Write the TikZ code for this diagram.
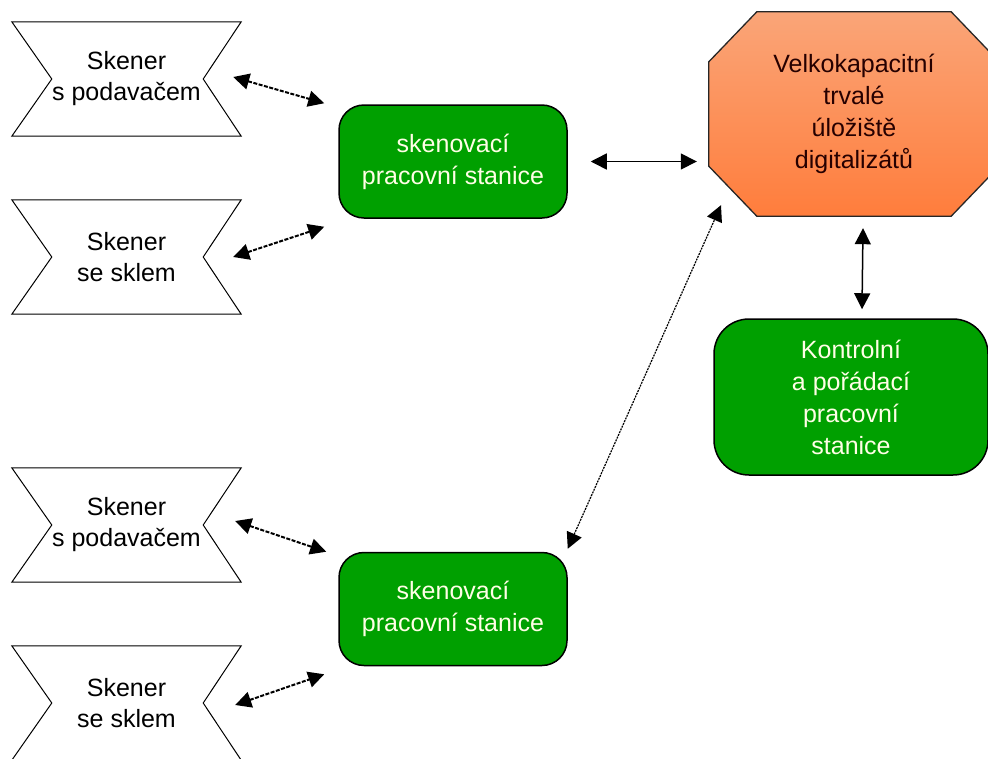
\documentclass[tikz,border=0pt]{standalone}
\usepackage{fontspec}
\setmainfont{Liberation Sans}
\usetikzlibrary{shapes, arrows.meta, positioning, backgrounds}
\definecolor{wsgreen}{RGB}{0,160,0}
\definecolor{storetop}{RGB}{250,165,120}
\definecolor{storebottom}{RGB}{255,125,60}
\tikzstyle{arrow} = [line width=1.5pt, <->, >={Triangle[length=16pt,width=16pt]}]
\tikzstyle{scanarrow} = [arrow, line width=2pt, dash pattern=on 4pt off 1.5pt]
\tikzstyle{netarrow} = [arrow, line width=1.2pt, dash pattern=on 2pt off 1pt]
\tikzstyle{outline} = [draw=black, line width=1pt]
\tikzstyle{scanner} = [rectangle, minimum width = 229pt, minimum height = 114pt, inner sep = 0pt, align = center, font = \fontsize{25}{31}\selectfont]
\tikzstyle{station} = [rectangle, rounded corners = 25pt, minimum width = 228pt, minimum height = 113pt, align = center, draw=black, line width=1.5pt, fill=wsgreen, text=white!90!yellow, font = \fontsize{25}{32}\selectfont]
\tikzstyle{storage} = [rectangle, minimum width = 290pt, minimum height = 204pt, align = center, text=black!85!red, font = \fontsize{25}{32}\selectfont]
\begin{document}
\begin{tikzpicture}[x=1pt, y=-1pt, node distance = 178pt]
				\useasboundingbox (0,0) rectangle (988,758);
				%scanners
				\node(scan1)[scanner] at (126.5,79){Skener\\s podavačem};
				\node(scan2)[scanner, below of = scan1]{Skener\\se sklem};
				\node(scan3)[scanner, below of = scan2, yshift = -90pt]{Skener\\s podavačem};
				\node(scan4)[scanner, below of = scan3]{Skener\\se sklem};
				
				%workstations
				\node(ws1)[station] at (453,161.5){skenovací\\pracovní stanice};
				\node(ws2)[station] at (453,609){skenovací\\pracovní stanice};
				
				\node(store)[storage] at (854,114){Velkokapacitní\\trvalé\\úložiště\\digitalizátů};
				\node(ctrl)[station, minimum width = 274pt, minimum height = 156pt, rounded corners = 35pt] at (851,397){Kontrolní\\a pořádací\\pracovní\\stanice};
				
				%outlines
				\begin{scope}[on background layer]
					\draw [outline] (scan1.north west) -- (scan1.north east) -- ([xshift=-38pt]scan1.east) -- (scan1.south east) -- (scan1.south west) -- ([xshift=40pt]scan1.west) -- cycle;
					\draw [outline] (scan2.north west) -- (scan2.north east) -- ([xshift=-38pt]scan2.east) -- (scan2.south east) -- (scan2.south west) -- ([xshift=40pt]scan2.west) -- cycle;
					\draw [outline] (scan3.north west) -- (scan3.north east) -- ([xshift=-38pt]scan3.east) -- (scan3.south east) -- (scan3.south west) -- ([xshift=40pt]scan3.west) -- cycle;
					\draw [outline] (scan4.north west) -- (scan4.north east) -- ([xshift=-38pt]scan4.east) -- (scan4.south east) -- (scan4.south west) -- ([xshift=40pt]scan4.west) -- cycle;
					\path [draw=black!85, line width=1.3pt, top color=storetop, bottom color=storebottom] ([xshift=48pt]store.north west) -- ([xshift=-48pt]store.north east) -- ([yshift=-50pt]store.north east) -- ([yshift=50pt]store.south east) -- ([xshift=-48pt]store.south east) -- ([xshift=48pt]store.south west) -- ([yshift=50pt]store.south west) -- ([yshift=-50pt]store.north west) -- cycle;
				\end{scope}
				
				%arrows
					\draw [scanarrow] ([xshift=-8pt,yshift=2pt]scan1.east) -- ([xshift=-14pt,yshift=1pt]ws1.north west);
					\draw [scanarrow] ([xshift=-8pt]scan2.east) -- ([xshift=-14pt,yshift=-8pt]ws1.south west);
					\draw [scanarrow] ([xshift=-6pt,yshift=4pt]scan3.east) -- ([xshift=-12pt]ws2.north west);
					\draw [scanarrow] ([xshift=-6pt,yshift=-2pt]scan4.east) -- ([xshift=-14pt,yshift=-8pt]ws2.south west);
					\draw [arrow, shorten <=23pt, shorten >=12pt] (ws1.east) -- (ws1.east -| store.west);
					\draw [netarrow] ([yshift=3pt]ws2.north east) -- ([xshift=-133pt,yshift=11pt]store.south);
					\draw [arrow] ([xshift=9pt,yshift=-12pt]store.south) -- ([xshift=11pt,yshift=9pt]ctrl.north);
\end{tikzpicture}
\end{document}
